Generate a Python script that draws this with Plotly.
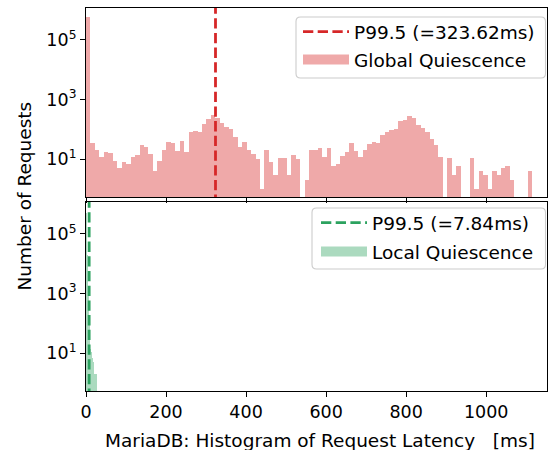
import plotly.graph_objects as go

# ---------------- data ----------------
# Global Quiescence histogram (100 bins starting at 0 ms)
global_bin_start = 0.0
global_bin_width = 11.15
global_counts = [
    580000, 34, 20, 12, 17, 16, 9, 5, 8, 7,
    12, 14, 30, 25, 15, 4, 9, 20, 37, 34,
    19, 40, 17, 81, 87, 81, 150, 221, 301, 239,
    162, 119, 102, 55, 25, 37, 20, 15, 10, 1,
    20, 8, 3, 11, 11, 3, 14, 10, 0, 2,
    20, 20, 23, 12, 23, 6, 7, 13, 17, 34,
    19, 12, 20, 32, 37, 34, 64, 81, 94, 102,
    189, 205, 279, 239, 139, 110, 81, 47, 30, 12,
    0, 11, 3, 6, 0, 0, 11, 1, 4, 3,
    1, 4, 3, 5, 6, 2, 0, 0, 0, 4,
]
global_p995 = 323.62

# Local Quiescence histogram
local_bin_start = 0.0
local_bin_width = 2.5
local_counts = [520000, 20000, 1500, 100, 14, 11, 7, 5, 2, 2, 2, 0]
local_p995 = 7.84

x_tickvals = [0, 200, 400, 600, 800, 1000]
y_tickvals = [10, 1000, 100000]
y_ticktext = ["10<sup>1</sup>", "10<sup>3</sup>", "10<sup>5</sup>"]

# ---------------- styling ----------------
FONT = "DejaVu Sans"
RED = "#d62728"
RED_FILL = "rgba(214,39,40,0.4)"
GREEN = "#2ca25f"
GREEN_FILL = "rgba(44,162,95,0.4)"

W, H = 548, 450
ML, MR, MT, MB = 86, 1, 8, 59
PW, PH = W - ML - MR, H - MT - MB


def px_x(px):
    return (px - ML) / PW


def px_y(py):
    return (H - MB - py) / PH


def centers(start, width, n):
    return [start + (i + 0.5) * width for i in range(n)]


def rounded_box(x0, y0, x1, y1, r=4.5):
    """Rounded rectangle path in paper coords from pixel coords."""
    X = px_x
    Y = px_y
    return (
        f"M{X(x0 + r)},{Y(y0)} L{X(x1 - r)},{Y(y0)} Q{X(x1)},{Y(y0)} {X(x1)},{Y(y0 + r)} "
        f"L{X(x1)},{Y(y1 - r)} Q{X(x1)},{Y(y1)} {X(x1 - r)},{Y(y1)} "
        f"L{X(x0 + r)},{Y(y1)} Q{X(x0)},{Y(y1)} {X(x0)},{Y(y1 - r)} "
        f"L{X(x0)},{Y(y0 + r)} Q{X(x0)},{Y(y0)} {X(x0 + r)},{Y(y0)} Z"
    )


fig = go.Figure()

# top histogram
fig.add_trace(go.Bar(
    x=centers(global_bin_start, global_bin_width, len(global_counts)),
    y=global_counts, width=global_bin_width,
    marker=dict(color=RED_FILL, line=dict(width=0)),
    showlegend=False, xaxis="x", yaxis="y",
))
fig.add_trace(go.Scatter(
    x=[global_p995, global_p995], y=[1e-3, 1e9], mode="lines",
    line=dict(color=RED, width=2.8, dash="10.3px,4.4px"),
    name="P99.5 (=%.2fms)" % global_p995, legend="legend",
    xaxis="x", yaxis="y",
))
fig.add_trace(go.Scatter(
    x=[None], y=[None], mode="lines",
    line=dict(color=RED_FILL, width=14),
    name="Global Quiescence", legend="legend3",
    xaxis="x", yaxis="y",
))

# bottom histogram
fig.add_trace(go.Bar(
    x=centers(local_bin_start, local_bin_width, len(local_counts)),
    y=local_counts, width=local_bin_width,
    marker=dict(color=GREEN_FILL, line=dict(width=0)),
    showlegend=False, xaxis="x2", yaxis="y2",
))
fig.add_trace(go.Scatter(
    x=[local_p995, local_p995], y=[1e-3, 1e9], mode="lines",
    line=dict(color=GREEN, width=2.8, dash="10.3px,4.4px"),
    name="P99.5 (=%.2fms)" % local_p995, legend="legend2",
    xaxis="x2", yaxis="y2",
))
fig.add_trace(go.Scatter(
    x=[None], y=[None], mode="lines",
    line=dict(color=GREEN_FILL, width=14),
    name="Local Quiescence", legend="legend4",
    xaxis="x2", yaxis="y2",
))

axis_common = dict(
    showline=True, linecolor="black", linewidth=1.1, mirror=True,
    ticks="outside", ticklen=5, tickwidth=1.1, tickcolor="black",
    showgrid=False, zeroline=False, automargin=False,
    tickfont=dict(family=FONT, size=17.5, color="black"),
)

legend_common = dict(
    xanchor="left", yanchor="middle",
    bgcolor="rgba(0,0,0,0)", borderwidth=0,
    font=dict(family=FONT, size=18.5, color="black"),
    itemwidth=46,
)

fig.update_layout(
    width=W, height=H,
    margin=dict(l=ML, r=MR, t=MT, b=MB, pad=0, autoexpand=False),
    paper_bgcolor="white", plot_bgcolor="white",
    font=dict(family=FONT, size=18, color="black"),
    barmode="overlay", bargap=0,
    xaxis=dict(domain=[0, 1], anchor="y", range=[0, 1152], tickvals=x_tickvals,
               showticklabels=False, **axis_common),
    yaxis=dict(domain=[px_y(197), 1], anchor="x", type="log", range=[-0.27, 6.07],
               tickvals=y_tickvals, ticktext=y_ticktext, **axis_common),
    xaxis2=dict(domain=[0, 1], anchor="y2", range=[0, 1152], tickvals=x_tickvals,
                matches="x", **axis_common),
    yaxis2=dict(domain=[0, px_y(202)], anchor="x2", type="log", range=[-0.27, 6.07],
                tickvals=y_tickvals, ticktext=y_ticktext, **axis_common),
    legend=dict(x=px_x(298), y=px_y(32), **legend_common),
    legend3=dict(x=px_x(298), y=px_y(60), **legend_common),
    legend2=dict(x=px_x(316), y=px_y(223), **legend_common),
    legend4=dict(x=px_x(316), y=px_y(252), **legend_common),
    shapes=[
        dict(type="path", xref="paper", yref="paper", layer="above",
             path=rounded_box(296, 17, 545.5, 78),
             fillcolor="rgba(255,255,255,0.8)", line=dict(color="#cccccc", width=1.1)),
        dict(type="path", xref="paper", yref="paper", layer="above",
             path=rounded_box(312, 208, 545.5, 269),
             fillcolor="rgba(255,255,255,0.8)", line=dict(color="#cccccc", width=1.1)),
    ],
    annotations=[
        dict(text="Number of Requests", textangle=-90, xref="paper", yref="paper",
             x=px_x(23.5), y=px_y(196), xanchor="center", yanchor="middle", showarrow=False,
             font=dict(family=FONT, size=18.5, color="black")),
        dict(text="MariaDB: Histogram of Request Latency\u00a0\u00a0 [ms]", xref="paper", yref="paper",
             x=px_x(319.5), y=px_y(440), xanchor="center", yanchor="middle", showarrow=False,
             font=dict(family=FONT, size=18.5, color="black")),
    ],
)

fig.write_html("out.html", config={"displayModeBar": False},
               post_script="document.body.style.margin='0px';")
